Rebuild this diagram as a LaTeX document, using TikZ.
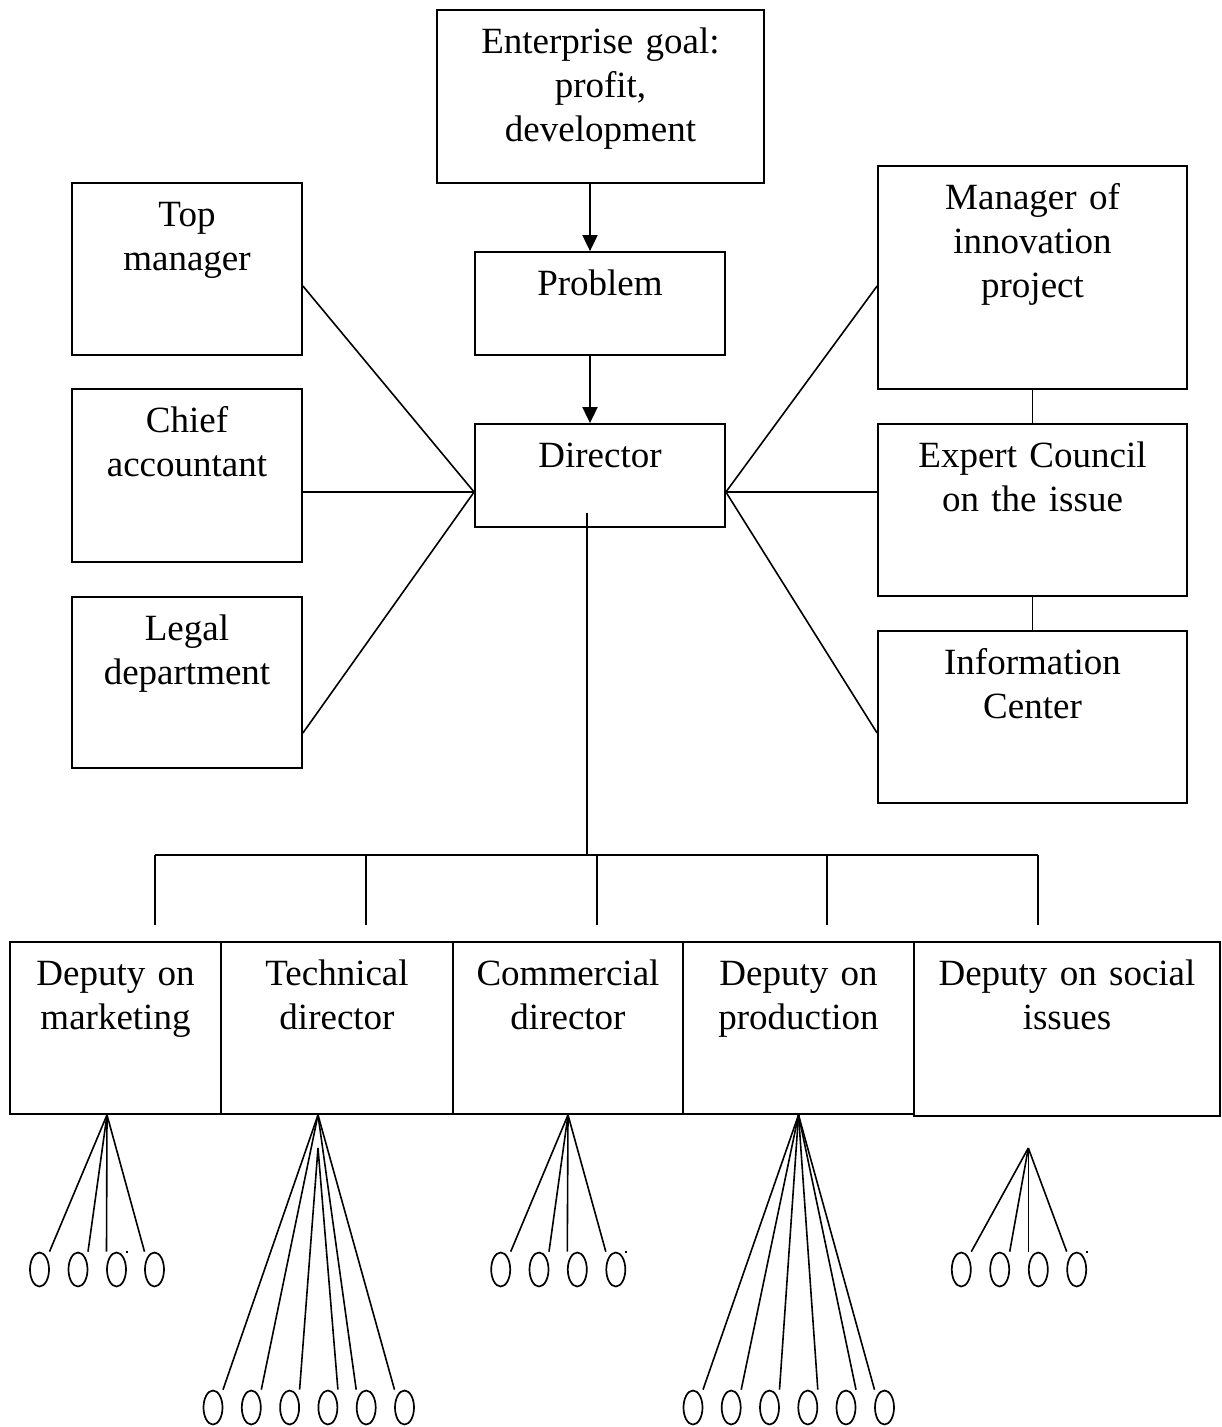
\documentclass[tikz,border=0pt]{standalone}
\usepackage{fontspec}
\setmainfont{Liberation Serif}
\usetikzlibrary{arrows.meta,shapes.geometric}
\begin{document}
\begin{tikzpicture}[x=1pt,y=-1pt,
  box/.style={draw, line width=1.8pt, rectangle, inner sep=0pt},
  txt/.style={anchor=base, inner sep=0pt, align=center, font=\fontsize{37}{44}\selectfont},
  conn/.style={line width=1.6pt},
  arr/.style={line width=1.9pt, -{Triangle[length=16pt,width=15pt]}},
  oval/.style={draw, ellipse, line width=1.7pt, minimum width=19pt, minimum height=34pt, inner sep=0pt},
  dotmark/.style={fill=black, minimum size=2pt, inner sep=0pt, rectangle}
]
\useasboundingbox (0,0) rectangle (1222,1427);

% ---- top column
\node[box, minimum width=327pt, minimum height=173pt] (eg) at (600.5,96.5) {};
\node[txt, text width=320pt] (egt) at ([yshift=-44.5pt]eg.north) {Enterprise goal:\\profit,\\development};
\node[box, minimum width=250pt, minimum height=103pt] (pr) at (600,303.5) {};
\node[txt, text width=240pt] (prt) at ([yshift=-44.5pt]pr.north) {Problem};
\node[box, minimum width=250pt, minimum height=103pt] (dir) at (600,475.5) {};
\node[txt, text width=240pt] (dirt) at ([yshift=-44.5pt]dir.north) {Director};

% ---- left column
\node[box, minimum width=230pt, minimum height=172pt] (tm) at (187,269) {};
\node[txt, text width=225pt] (tmt) at ([yshift=-44.5pt]tm.north) {Top\\manager};
\node[box, minimum width=230pt, minimum height=173pt] (ca) at (187,475.5) {};
\node[txt, text width=225pt] (cat) at ([yshift=-44.5pt]ca.north) {Chief\\accountant};
\node[box, minimum width=230pt, minimum height=171pt] (ld) at (187,682.5) {};
\node[txt, text width=225pt] (ldt) at ([yshift=-44.5pt]ld.north) {Legal\\department};

% ---- right column
\node[box, minimum width=309pt, minimum height=223pt] (mi) at (1032.5,277.5) {};
\node[txt, text width=300pt] (mit) at ([yshift=-44.5pt]mi.north) {Manager of\\innovation\\project};
\node[box, minimum width=309pt, minimum height=172pt] (ex) at (1032.5,510) {};
\node[txt, text width=300pt] (ext) at ([yshift=-44.5pt]ex.north) {Expert Council\\on the issue};
\node[box, minimum width=309pt, minimum height=172pt] (ic) at (1032.5,717) {};
\node[txt, text width=300pt] (ict) at ([yshift=-44.5pt]ic.north) {Information\\Center};

% ---- bottom row
\node[box, minimum width=211pt, minimum height=172pt] (mk) at (115.5,1028) {};
\node[txt, text width=205pt] (mkt) at ([yshift=-44.5pt]mk.north) {Deputy on\\marketing};
\node[box, minimum width=232pt, minimum height=172pt] (td) at (337,1028) {};
\node[txt, text width=225pt] (tdt) at ([yshift=-44.5pt]td.north) {Technical\\director};
\node[box, minimum width=230pt, minimum height=172pt] (cd) at (568,1028) {};
\node[txt, text width=225pt] (cdt) at ([yshift=-44.5pt]cd.north) {Commercial\\director};
\node[box, minimum width=231pt, minimum height=172pt] (dp) at (798.5,1028) {};
\node[txt, text width=225pt] (dpt) at ([yshift=-44.5pt]dp.north) {Deputy on\\production};
\node[box, minimum width=306pt, minimum height=174pt] (ds) at (1067,1029) {};
\node[txt, text width=300pt] (dst) at ([yshift=-44.5pt]ds.north) {Deputy on social\\issues};

% ---- arrows
\draw[arr] ([xshift=-10.5pt]eg.south) -- ([xshift=-10pt]pr.north);
\draw[arr] ([xshift=-10pt]pr.south) -- ([xshift=-10pt]dir.north);

% ---- star connectors
\draw[conn] ([yshift=-16.5pt]dir.west) -- ([yshift=-17pt]tm.east);
\draw[conn] ([yshift=-16.5pt]dir.west) -- ([yshift=-16.5pt]ca.east);
\draw[conn] ([yshift=-16.5pt]dir.west) -- ([yshift=-50.5pt]ld.east);
\draw[conn] ([yshift=-16.5pt]dir.east) -- ([yshift=-8.5pt]mi.west);
\draw[conn] ([yshift=-16.5pt]dir.east) -- ([yshift=18pt]ex.west);
\draw[conn] ([yshift=-16.5pt]dir.east) -- ([yshift=-16pt]ic.west);
\draw[conn] (mi.south) -- (ex.north);
\draw[conn] (ex.south) -- (ic.north);

% ---- bus
\coordinate (busL) at (155,855);
\coordinate (busR) at (1038,855);
\coordinate (busM) at (587,855);
\draw[conn] ([xshift=-13pt,yshift=15pt]dir.south) -- (busM);
\draw[conn] (busL) -- (busR);
\foreach \x/\n in {155/a,366/b,597/c,827/d,1038/e}{
  \coordinate (drop\n) at (\x,925);
  \draw[conn] (\x,855) -- (drop\n);
}

% ---- ovals, upper row
\foreach \n/\x in {m1/39.5,m2/78,m3/116.5,m4/154.5,c1/500.7,c2/539,c3/577.3,c4/615.8,s1/961.3,s2/999.7,s3/1038.3,s4/1076.7}{
  \node[oval] (\n) at (\x,1269.5) {};
}
% ---- ovals, lower row
\foreach \n/\x in {t1/213,t2/251.3,t3/289.6,t4/327.9,t5/366.2,t6/404.5,p1/693,p2/731.2,p3/769.5,p4/807.8,p5/846,p6/884.5}{
  \node[oval] (\n) at (\x,1407.5) {};
}

% marketing fan
\coordinate (mka) at ([xshift=-8.5pt]mk.south);
\draw[conn] (mka) -- ([xshift=10pt]m1.north);
\draw[conn] (mka) -- ([xshift=10pt]m2.north);
\draw[conn] (mka) -- ([xshift=-10pt]m3.north);
\draw[conn] (mka) -- ([xshift=-10pt]m4.north);
\node[dotmark] (mdot) at (126.5,1252) {};

% technical fan
\coordinate (tda) at ([xshift=-19pt]td.south);
\coordinate (tdb) at (318,1148);
\draw[conn] (tda) -- ([xshift=10pt]t1.north);
\draw[conn] (tda) -- ([xshift=10pt]t2.north);
\draw[conn] (tdb) -- ([xshift=10pt]t3.north);
\draw[conn] (tdb) -- ([xshift=10pt]t4.north);
\draw[conn] (tda) -- ([xshift=-10pt]t5.north);
\draw[conn] (tda) -- ([xshift=-10pt]t6.north);

% commercial fan
\coordinate (cda) at (cd.south);
\draw[conn] (cda) -- ([xshift=10pt]c1.north);
\draw[conn] (cda) -- ([xshift=10pt]c2.north);
\draw[conn] (cda) -- ([xshift=-10pt]c3.north);
\draw[conn] (cda) -- ([xshift=-10pt]c4.north);
\node[dotmark] (cdot) at (626,1252) {};

% production fan
\coordinate (dpa) at (dp.south);
\draw[conn] (dpa) -- ([xshift=10pt]p1.north);
\draw[conn] (dpa) -- ([xshift=10pt]p2.north);
\draw[conn] (dpa) -- ([xshift=10pt]p3.north);
\draw[conn] (dpa) -- ([xshift=10pt]p4.north);
\draw[conn] (dpa) -- ([xshift=10pt]p5.north);
\draw[conn] (dpa) -- ([xshift=-10pt]p6.north);

% social fan
\coordinate (dsa) at (1028.3,1148);
\draw[conn] (dsa) -- ([xshift=10pt]s1.north);
\draw[conn] (dsa) -- ([xshift=10pt]s2.north);
\draw[conn] (dsa) -- ([xshift=-10pt]s3.north);
\draw[conn] (dsa) -- ([xshift=-10pt]s4.north);
\node[dotmark] (sdot) at (1087,1252) {};

\end{tikzpicture}
\end{document}
